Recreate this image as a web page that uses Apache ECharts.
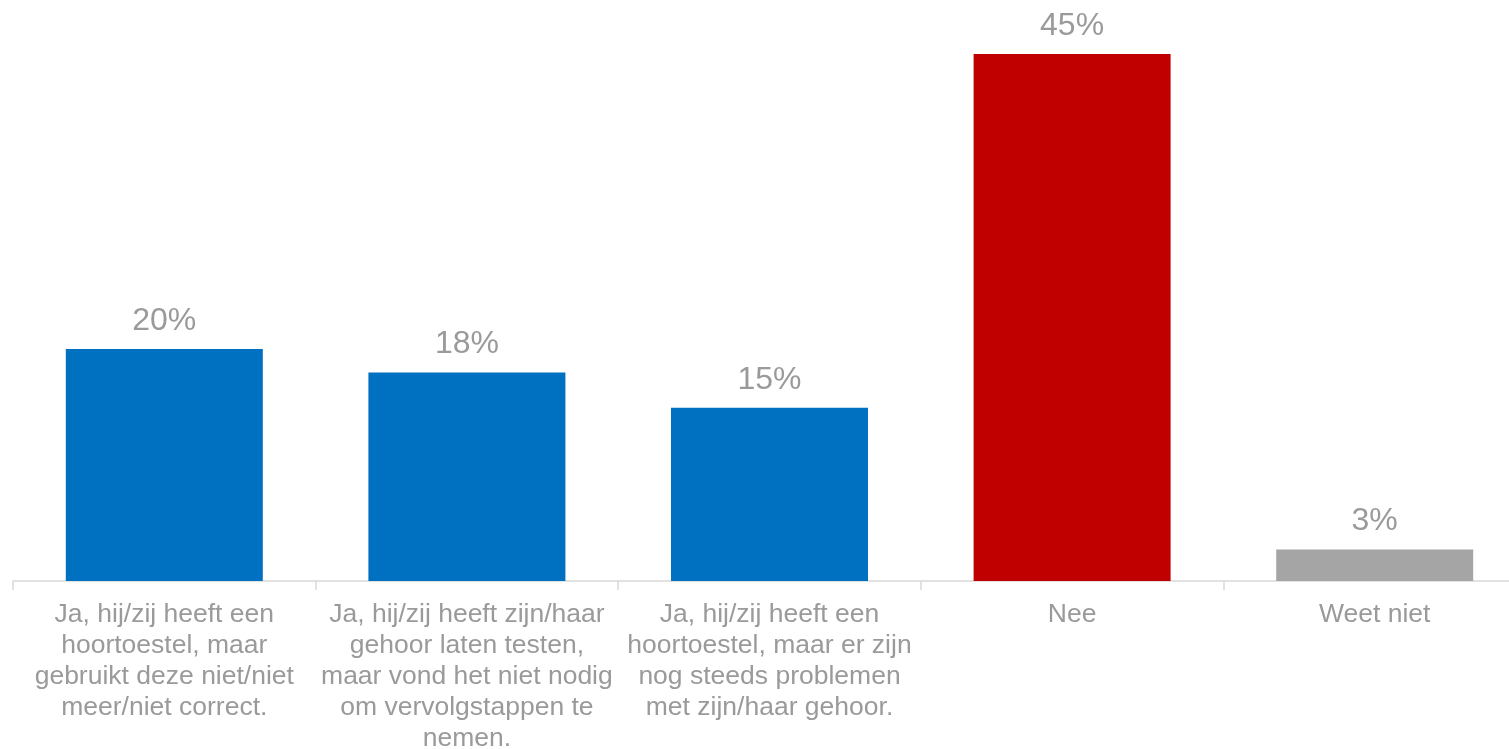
<!DOCTYPE html>
<html>
<head>
<meta charset="utf-8">
<script src="https://cdn.jsdelivr.net/npm/echarts@6/dist/echarts.min.js"></script>
<style>html,body{margin:0;padding:0;background:#fff}#c{width:1509px;height:749px}</style>
</head>
<body>
<div id="c"></div>
<script>
var categories = [
  "Ja, hij/zij heeft een\nhoortoestel, maar\ngebruikt deze niet/niet\nmeer/niet correct.",
  "Ja, hij/zij heeft zijn/haar\ngehoor laten testen,\nmaar vond het niet nodig\nom vervolgstappen te\nnemen.",
  "Ja, hij/zij heeft een\nhoortoestel, maar er zijn\nnog steeds problemen\nmet zijn/haar gehoor.",
  "Nee",
  "Weet niet"
];
var values = [19.8, 17.8, 14.8, 45.0, 2.7];
var colors = ["#0070C0", "#0070C0", "#0070C0", "#C00000", "#A5A5A5"];

var chart = echarts.init(document.getElementById('c'), null, {renderer: 'canvas'});
chart.setOption({
  animation: false,
  grid: {left: 13, top: 54, width: 1513, height: 527, containLabel: false, outerBoundsMode: 'none'},
  xAxis: {
    type: 'category',
    data: categories,
    axisLine: {lineStyle: {color: '#D9D9D9', width: 1.5}},
    axisTick: {show: true, length: 9, lineStyle: {color: '#D9D9D9', width: 1.5}},
    axisLabel: {
      interval: 0, margin: 18,
      color: '#9A9A9A', fontSize: 26.5, lineHeight: 31,
      fontFamily: 'Liberation Sans, Arial, sans-serif'
    }
  },
  yAxis: {
    type: 'value', min: 0, max: 45, show: false,
    splitLine: {show: false}
  },
  series: [{
    type: 'bar',
    barWidth: 197,
    data: values.map(function (v, i) { return {value: v, itemStyle: {color: colors[i]}}; }),
    label: {
      show: true, position: 'top', distance: 12,
      color: '#9A9A9A', fontSize: 32,
      fontFamily: 'Liberation Sans, Arial, sans-serif',
      formatter: function (p) { return Math.round(p.value) + '%'; }
    }
  }]
});
</script>
</body>
</html>
